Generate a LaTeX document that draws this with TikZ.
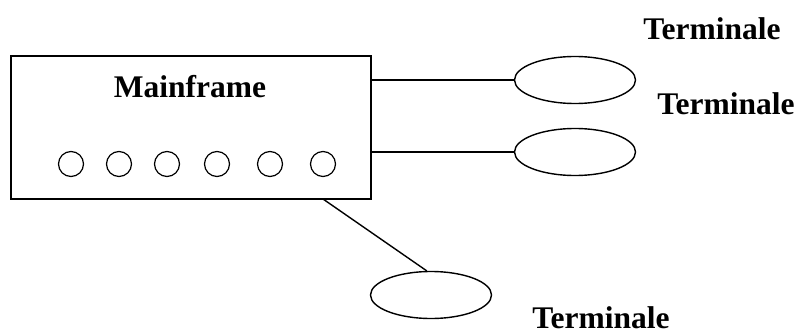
\documentclass[tikz,border=0pt]{standalone}
\usepackage{fontspec}
\setmainfont{Liberation Serif}
\usetikzlibrary{shapes.geometric}
\begin{document}
\begin{tikzpicture}[x=1pt,y=-1pt,line width=1.4pt,
  lbl/.style={font=\fontsize{31.5}{36}\selectfont\bfseries, inner sep=0pt},
  port/.style={circle, draw, line width=1.2pt, minimum size=25pt, inner sep=0pt},
  term/.style={ellipse, draw, minimum width=121pt, minimum height=47pt, inner sep=0pt},
  box/.style={rectangle, draw, minimum width=360pt, minimum height=143pt, inner sep=0pt}]
\useasboundingbox (0,0) rectangle (799,334);
\node[box] (mf) at (191,127.5) {};
\node[lbl] (mft) at (190,87) {Mainframe};
\foreach \i/\x in {1/71,2/119,3/167,4/217,5/270,6/323}
  \node[port] (p\i) at (\x,164) {};
\node[term] (t1) at (575,80) {};
\node[term] (t2) at (575,152) {};
\node[term] (t3) at (431,295) {};
\node[lbl] (l1) at (712,29) {Terminale};
\node[lbl] (l2) at (726,104) {Terminale};
\node[lbl] (l3) at (601,318) {Terminale};
\coordinate (b) at (323,199);
\draw (mf.east |- t1.west) -- (t1.west);
\draw (mf.east |- t2.west) -- (t2.west);
\draw (b) -- (t3.100);
\end{tikzpicture}
\end{document}
